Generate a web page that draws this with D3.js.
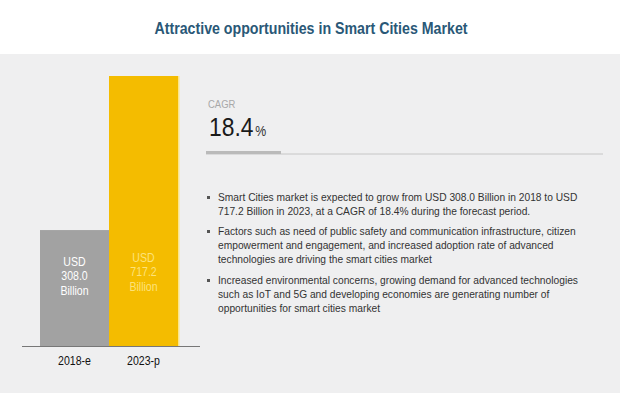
<!DOCTYPE html>
<html>
<head>
<meta charset="utf-8">
<script src="https://cdn.jsdelivr.net/npm/d3@7"></script>
<style>
  body { margin: 0; background: #fff; }
  svg { display: block; }
</style>
</head>
<body>
<svg width="624" height="393"></svg>
<script>
var years = ['2018-e', '2023-p'];
var values = [308.0, 717.2];
var barLabels = [['USD', '308.0', 'Billion'], ['USD', '717.2', 'Billion']];
var barColors = ['#a2a2a2', '#f4bc00'];
var labelColors = ['#ffffff', '#fde27a'];
var cagr = '18.4';
var bullets = [
    ['Smart Cities market is expected to grow from USD 308.0 Billion in 2018 to USD',
     '717.2 Billion in 2023, at a CAGR of 18.4% during the forecast period.'],
    ['Factors such as need of public safety and communication infrastructure, citizen',
     'empowerment and engagement, and increased adoption rate of advanced',
     'technologies are driving the smart cities market'],
    ['Increased environmental concerns, growing demand for advanced technologies',
     'such as IoT and 5G and developing economies are generating number of',
     'opportunities for smart cities market']
];

var svg = d3.select('svg');
var font = '"Liberation Sans", Arial, sans-serif';

// squeeze text horizontally, the original uses a condensed face
function squeeze(sel, k) {
    sel.each(function () {
        var w = this.getComputedTextLength();
        d3.select(this).attr('textLength', w * k).attr('lengthAdjust', 'spacingAndGlyphs');
    });
    return sel;
}

// grey panel
svg.append('rect')
    .attr('x', 0).attr('y', 54)
    .attr('width', 620).attr('height', 339)
    .attr('fill', '#efeff0');

// title
svg.append('text')
    .attr('x', 311).attr('y', 34)
    .attr('text-anchor', 'middle')
    .style('font-family', font)
    .style('font-weight', 'bold')
    .style('font-size', '16.5px')
    .attr('fill', '#2a5877')
    .text('Attractive opportunities in Smart Cities Market')
    .call(squeeze, 0.86);

// bar chart
var x = d3.scaleBand().domain(years).range([40, 178]).padding(0);
var y = d3.scaleLinear().domain([0, 717.2]).range([346, 76]);

var g = svg.append('g');

g.selectAll('.bar')
    .data(years)
    .enter().append('rect')
    .attr('class', 'bar')
    .attr('x', d => x(d))
    .attr('y', (d, i) => y(values[i]))
    .attr('width', x.bandwidth())
    .attr('height', (d, i) => y(0) - y(values[i]))
    .attr('fill', (d, i) => barColors[i]);

// thin lighter edge on right of yellow bar
g.append('rect')
    .attr('x', x(years[1]) + x.bandwidth())
    .attr('y', y(values[1]))
    .attr('width', 1.5)
    .attr('height', y(0) - y(values[1]))
    .attr('fill', '#fbe58a');

var labelMid = [276, 272];
years.forEach(function (yr, i) {
    var cx = x(yr) + x.bandwidth() / 2;
    barLabels[i].forEach(function (t, j) {
        g.append('text')
            .attr('x', cx).attr('y', labelMid[i] + (j - 1) * 14.5 + 4)
            .attr('text-anchor', 'middle')
            .style('font-family', font)
            .style('font-size', '12px')
            .attr('fill', labelColors[i])
            .text(t)
            .call(squeeze, 0.88);
    });
});

// x axis
var xAxis = d3.axisBottom(x).tickSize(0).tickPadding(10);
var axisG = svg.append('g')
    .attr('transform', 'translate(0,346)')
    .call(xAxis);
axisG.select('.domain').remove();
axisG.selectAll('text')
    .style('font-family', font)
    .style('font-size', '12px')
    .attr('fill', '#111')
    .call(squeeze, 0.88);
svg.append('line')
    .attr('x1', 22).attr('x2', 200)
    .attr('y1', 346.5).attr('y2', 346.5)
    .attr('stroke', '#777').attr('stroke-width', 1.2);

// CAGR block
svg.append('text')
    .attr('x', 208).attr('y', 108)
    .style('font-family', font)
    .style('font-size', '10.5px')
    .attr('fill', '#a8a8a8')
    .text('CAGR')
    .call(squeeze, 0.9);

var big = svg.append('g')
    .attr('transform', 'translate(209,136) scale(0.88,1)')
    .append('text')
    .style('font-family', font)
    .attr('fill', '#1a1a1a');
big.append('tspan').style('font-size', '26px').text(cagr);
big.append('tspan').attr('dx', 2).style('font-size', '14px').attr('fill', '#333').text('%');

svg.append('line')
    .attr('x1', 206).attr('x2', 603)
    .attr('y1', 154).attr('y2', 154)
    .attr('stroke', '#c6c6c6').attr('stroke-width', 1);
svg.append('line')
    .attr('x1', 206).attr('x2', 281)
    .attr('y1', 152.5).attr('y2', 152.5)
    .attr('stroke', '#bababa').attr('stroke-width', 3);

// bullet points
var by = [201, 235, 284];
bullets.forEach(function (lines, i) {
    svg.append('rect')
        .attr('x', 207).attr('y', by[i] - 5)
        .attr('width', 3).attr('height', 3)
        .attr('fill', '#555');
    lines.forEach(function (t, j) {
        svg.append('text')
            .attr('x', 218).attr('y', by[i] + j * 14)
            .style('font-family', font)
            .style('font-size', '11px')
            .attr('fill', '#333')
            .text(t)
            .call(squeeze, 0.93);
    });
});
</script>
</body>
</html>
